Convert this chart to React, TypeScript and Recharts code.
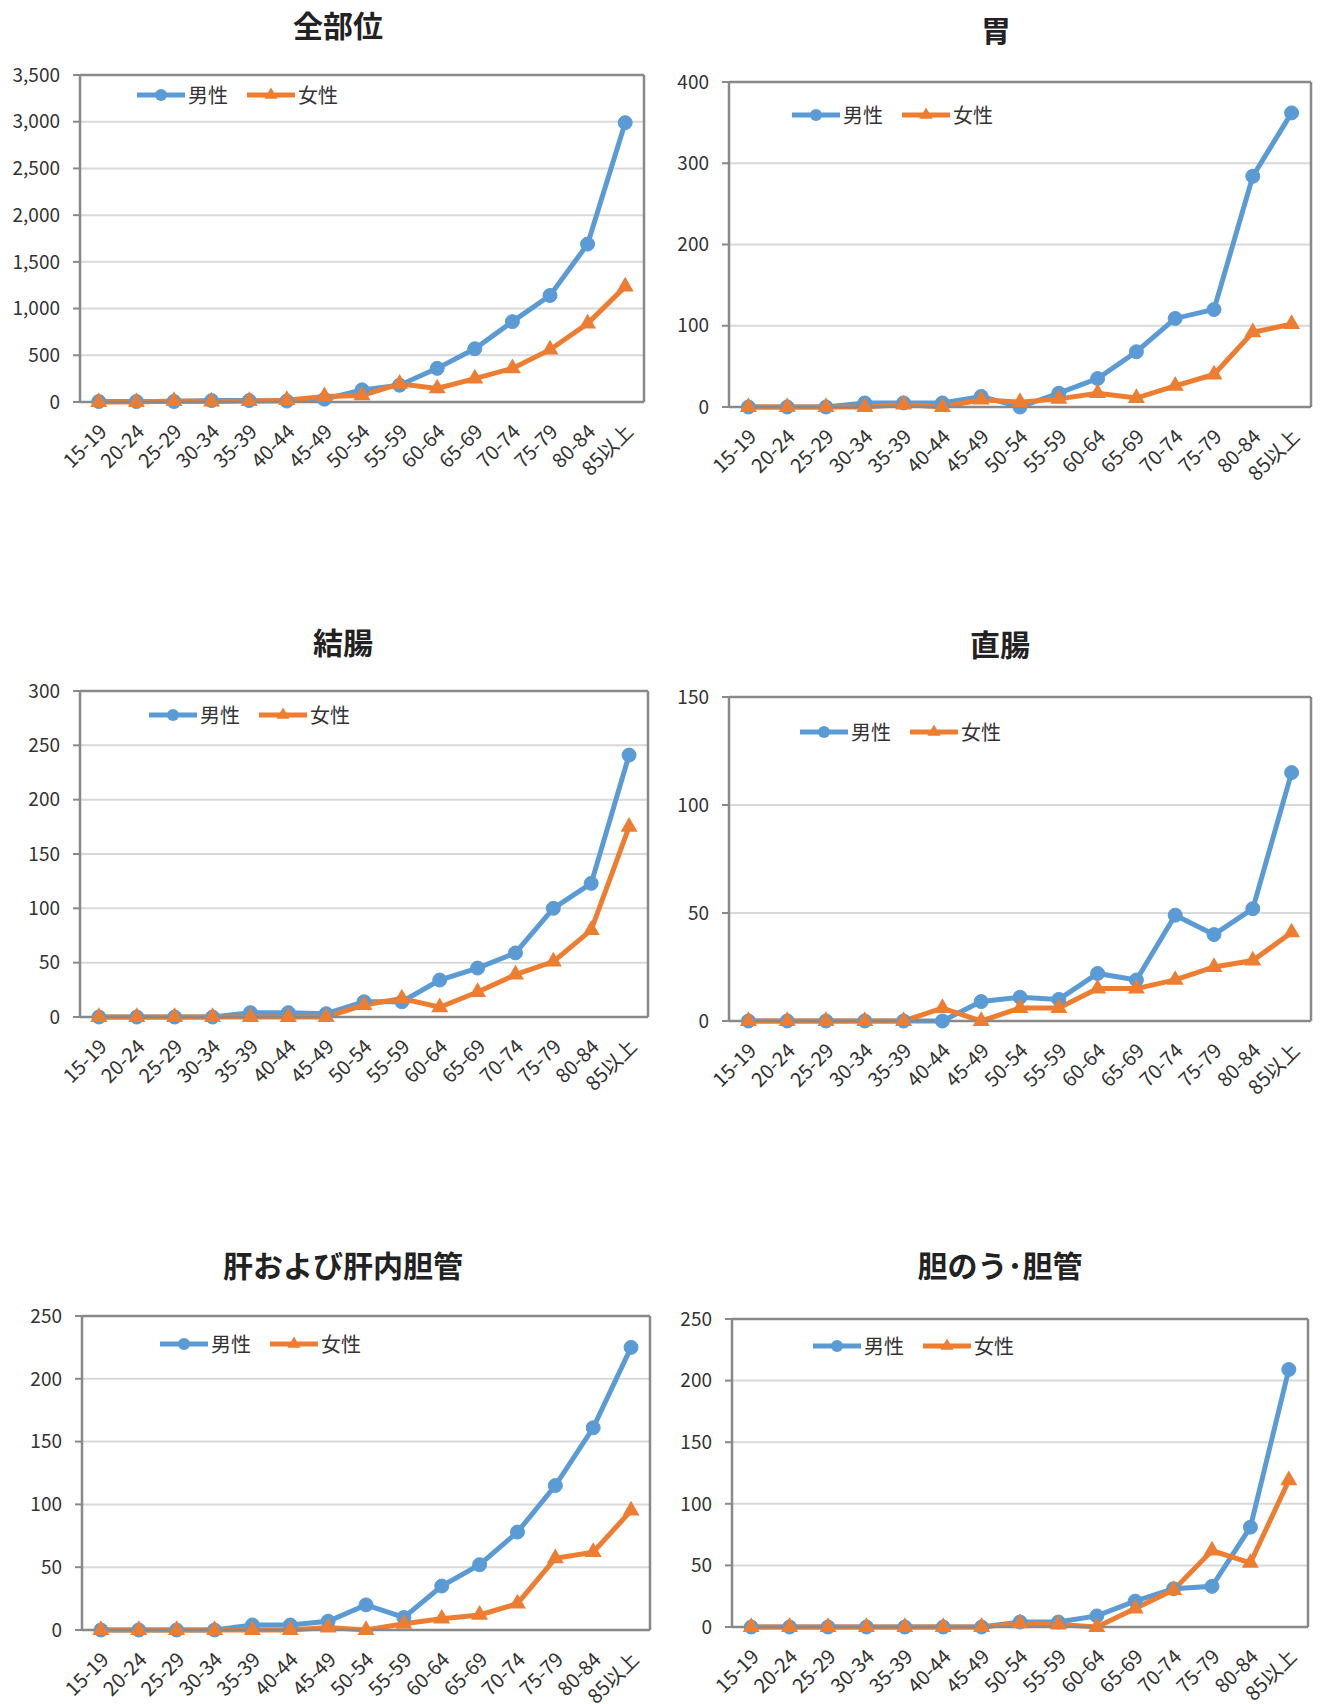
import React from "react";
import { LineChart, Line, XAxis, YAxis, CartesianGrid, Legend, Symbols } from "recharts";

const FONT = '"Noto Sans CJK JP", "Noto Sans", sans-serif';
const BLUE = "#5B9BD5";
const ORANGE = "#ED7D31";
const FRAME = "#898989";
const GRID = "#d9d9d9";
const TEXT = "#333333";

const ageGroups = [
  "15-19", "20-24", "25-29", "30-34", "35-39", "40-44", "45-49", "50-54",
  "55-59", "60-64", "65-69", "70-74", "75-79", "80-84", "85以上",
];
// category boundaries, used for the Excel-style tick marks between groups
const edgeTicks = [0, 1, 2, 3, 4, 5, 6, 7, 8, 9, 10, 11, 12, 13, 14, 15];
const sexOrder = ["male", "female"];

const allSitesMale = [5, 5, 5, 15, 15, 10, 30, 130, 180, 360, 570, 860, 1140, 1690, 2990];
const allSitesFemale = [0, 0, 10, 5, 10, 20, 60, 70, 195, 145, 250, 360, 560, 840, 1235];
const allSitesTicks = [0, 500, 1000, 1500, 2000, 2500, 3000, 3500];

const stomachMale = [0, 0, 0, 5, 5, 5, 13, 0, 17, 35, 68, 109, 120, 284, 362];
const stomachFemale = [0, 0, 0, 0, 3, 0, 9, 6, 10, 17, 11, 26, 40, 92, 102];
const stomachTicks = [0, 100, 200, 300, 400];

const colonMale = [0, 0, 0, 0, 4, 4, 3, 14, 14, 34, 45, 59, 100, 123, 241];
const colonFemale = [0, 0, 0, 0, 0, 0, 0, 11, 17, 9, 23, 39, 51, 80, 175];
const colonTicks = [0, 50, 100, 150, 200, 250, 300];

const rectumMale = [0, 0, 0, 0, 0, 0, 9, 11, 10, 22, 19, 49, 40, 52, 115];
const rectumFemale = [0, 0, 0, 0, 0, 6, 0, 6, 6, 15, 15, 19, 25, 28, 41];
const rectumTicks = [0, 50, 100, 150];

const liverMale = [0, 0, 0, 0, 4, 4, 7, 20, 10, 35, 52, 78, 115, 161, 225];
const liverFemale = [0, 0, 0, 0, 0, 0, 2, 0, 5, 9, 12, 21, 57, 62, 95];
const liverTicks = [0, 50, 100, 150, 200, 250];

const gallMale = [0, 0, 0, 0, 0, 0, 0, 4, 4, 9, 21, 31, 33, 81, 209];
const gallFemale = [0, 0, 0, 0, 0, 0, 0, 3, 2, 0, 15, 30, 62, 52, 119];
const gallTicks = [0, 50, 100, 150, 200, 250];

// plot = [left, top, right, bottom] of the framed plot area on the page
const panels = [
  { title: "全部位", male: allSitesMale, female: allSitesFemale, yTicks: allSitesTicks,
    plot: [80, 75, 644, 402], titleAt: [338, 24], legendAt: [137, 95] },
  { title: "胃", male: stomachMale, female: stomachFemale, yTicks: stomachTicks,
    plot: [729, 82, 1311, 407], titleAt: [996, 29], legendAt: [792, 115] },
  { title: "結腸", male: colonMale, female: colonFemale, yTicks: colonTicks,
    plot: [80, 691, 648, 1017], titleAt: [343, 641], legendAt: [149, 715] },
  { title: "直腸", male: rectumMale, female: rectumFemale, yTicks: rectumTicks,
    plot: [729, 697, 1311, 1021], titleAt: [1000, 643], legendAt: [800, 732] },
  { title: "肝および肝内胆管", male: liverMale, female: liverFemale, yTicks: liverTicks,
    plot: [82, 1316, 650, 1630], titleAt: [343, 1264], legendAt: [160, 1344] },
  { title: "胆のう･胆管", male: gallMale, female: gallFemale, yTicks: gallTicks,
    plot: [732, 1319, 1308, 1627], titleAt: [1000, 1264], legendAt: [813, 1346] },
];

function AgeTick(props: any) {
  const { x, y, payload } = props;
  return (
    <text
      x={x}
      y={y}
      dx={-9}
      dy={22}
      textAnchor="end"
      transform={`rotate(-45 ${x} ${y})`}
      fill={TEXT}
      fontSize={20}
      fontFamily={FONT}
    >
      {payload.value}
    </text>
  );
}

function TriangleDot(props: any) {
  const { cx, cy, index } = props;
  if (cx == null || cy == null) return null;
  return <Symbols key={`tri-${index}`} cx={cx} cy={cy} type="triangle" size={125} fill={ORANGE} />;
}

function SexLegend({ payload }: any) {
  const items = [...(payload || [])].sort(
    (a: any, b: any) => sexOrder.indexOf(a.dataKey) - sexOrder.indexOf(b.dataKey)
  );
  return (
    <div style={{ display: "flex", alignItems: "center", fontFamily: FONT, fontSize: 20, color: TEXT }}>
      {items.map((p: any) => (
        <div key={p.value} style={{ display: "flex", alignItems: "center", marginRight: 19 }}>
          <svg width={48} height={22} style={{ display: "block" }}>
            <line x1={0} x2={48} y1={11} y2={11} stroke={p.color} strokeWidth={5} />
            {p.type === "triangle" ? (
              <Symbols cx={24} cy={11} type="triangle" size={75} fill={p.color} />
            ) : (
              <circle cx={24} cy={11} r={6} fill={p.color} />
            )}
          </svg>
          <span style={{ marginLeft: 3, lineHeight: "22px" }}>{p.value}</span>
        </div>
      ))}
    </div>
  );
}

function Panel({ p }: { p: (typeof panels)[number] }) {
  const [left, top, right, bottom] = p.plot;
  const data = ageGroups.map((age, i) => ({ age, male: p.male[i], female: p.female[i] }));
  // frame axes are 1px thick (recharts skips axes of zero size)
  const chartLeft = left - 90;
  const chartTop = top - 17;
  const width = right - chartLeft + 7;
  const height = bottom - chartTop + 96;
  const yMax = p.yTicks[p.yTicks.length - 1];

  return (
    <>
      <div
        style={{
          position: "absolute",
          left: p.titleAt[0] - 200,
          top: p.titleAt[1] - 20,
          width: 400,
          textAlign: "center",
          fontFamily: FONT,
          fontSize: 30,
          fontWeight: "bold",
          lineHeight: "40px",
          color: "#222",
        }}
      >
        {p.title}
      </div>
      <div style={{ position: "absolute", left: chartLeft, top: chartTop }}>
        <LineChart width={width} height={height} data={data} margin={{ top: 16, right: 6, left: 14, bottom: 0 }}>
          <CartesianGrid xAxisId="age" vertical={false} stroke={GRID} strokeWidth={2} />
          {/* default id 0 keeps this axis next to the plot; it only draws the boundary ticks */}
          <XAxis
            type="number"
            domain={[0, 15]}
            allowDataOverflow
            ticks={edgeTicks}
            interval={0}
            tick={false}
            height={1}
            tickSize={6}
            axisLine={{ stroke: FRAME, strokeWidth: 2.5 }}
            tickLine={{ stroke: FRAME, strokeWidth: 2 }}
          />
          <XAxis
            xAxisId="age"
            dataKey="age"
            scale="band"
            interval={0}
            height={95}
            axisLine={false}
            tickLine={false}
            tick={<AgeTick />}
          />
          <XAxis
            xAxisId="top"
            orientation="top"
            type="number"
            domain={[0, 1]}
            allowDataOverflow
            height={1}
            tick={false}
            tickLine={false}
            axisLine={{ stroke: FRAME, strokeWidth: 2.5 }}
          />
          <YAxis
            domain={[0, yMax]}
            ticks={p.yTicks}
            interval={0}
            width={76}
            tickSize={7}
            tickMargin={13}
            tickFormatter={(v: number) => v.toLocaleString("en-US")}
            tick={{ fill: TEXT, fontSize: 19, fontFamily: FONT }}
            axisLine={{ stroke: FRAME, strokeWidth: 2.5 }}
            tickLine={{ stroke: FRAME, strokeWidth: 2 }}
          />
          <YAxis
            yAxisId="right"
            orientation="right"
            type="number"
            domain={[0, 1]}
            allowDataOverflow
            width={1}
            tick={false}
            tickLine={false}
            axisLine={{ stroke: FRAME, strokeWidth: 2.5 }}
          />
          <Legend
            verticalAlign="middle"
            align="center"
            layout="horizontal"
            content={<SexLegend />}
            wrapperStyle={{ left: p.legendAt[0] - chartLeft, top: p.legendAt[1] - chartTop - 11, width: "auto" }}
          />
          <Line
            xAxisId="age"
            dataKey="male"
            name="男性"
            legendType="circle"
            stroke={BLUE}
            strokeWidth={5}
            dot={{ r: 7, fill: BLUE, stroke: BLUE, strokeWidth: 1 }}
            activeDot={false}
            isAnimationActive={false}
          />
          <Line
            xAxisId="age"
            dataKey="female"
            name="女性"
            legendType="triangle"
            stroke={ORANGE}
            strokeWidth={5}
            dot={TriangleDot}
            activeDot={false}
            isAnimationActive={false}
          />
        </LineChart>
      </div>
    </>
  );
}

export default function App() {
  return (
    <div style={{ position: "absolute", left: 0, top: 0, width: 1320, height: 1704, background: "#fff" }}>
      {panels.map((p) => (
        <Panel key={p.title} p={p} />
      ))}
    </div>
  );
}
